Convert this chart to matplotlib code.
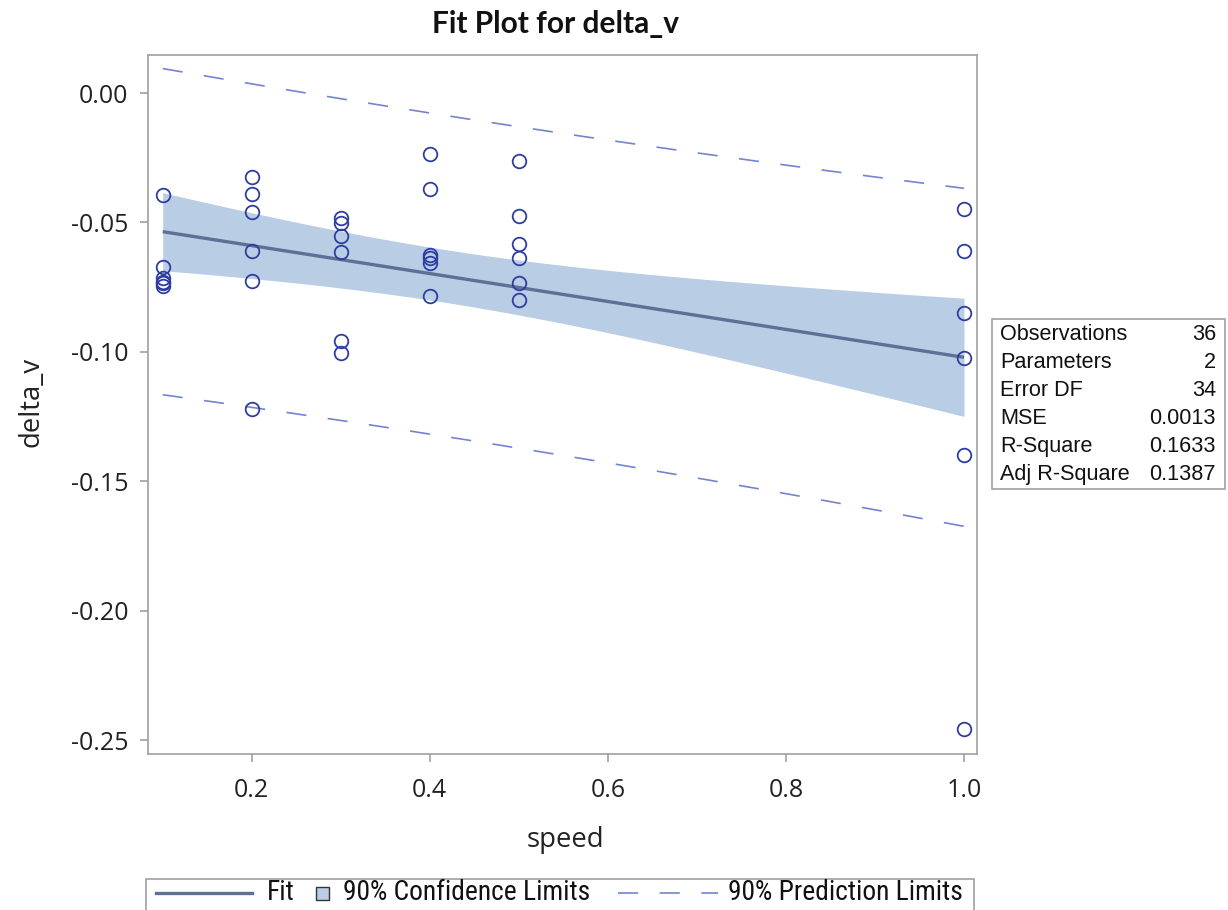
import numpy as np
import matplotlib
matplotlib.use("Agg")
import matplotlib.pyplot as plt
from matplotlib import font_manager as fm
from matplotlib.lines import Line2D
from matplotlib.patches import Rectangle

plt.rcParams['lines.scale_dashes'] = False

# ---- data -------------------------------------------------------------
speed = [0.1, 0.1, 0.1, 0.1, 0.1, 0.1,
         0.2, 0.2, 0.2, 0.2, 0.2, 0.2,
         0.3, 0.3, 0.3, 0.3, 0.3, 0.3,
         0.4, 0.4, 0.4, 0.4, 0.4, 0.4,
         0.5, 0.5, 0.5, 0.5, 0.5, 0.5,
         1.0, 1.0, 1.0, 1.0, 1.0, 1.0]
delta_v = [-0.0394, -0.0671, -0.0716, -0.0729, -0.0735, -0.0746,
           -0.0323, -0.0392, -0.0459, -0.0609, -0.0726, -0.1221,
           -0.0484, -0.0504, -0.0553, -0.0613, -0.0958, -0.1003,
           -0.0237, -0.0370, -0.0626, -0.0639, -0.0656, -0.0784,
           -0.0261, -0.0475, -0.0583, -0.0639, -0.0735, -0.0800,
           -0.0449, -0.0611, -0.0849, -0.1025, -0.1399, -0.2459]

x_ticks = [0.2, 0.4, 0.6, 0.8, 1.0]
y_ticks = [0.00, -0.05, -0.10, -0.15, -0.20, -0.25]

stats_labels = ["Observations", "Parameters", "Error DF", "MSE",
                "R-Square", "Adj R-Square"]
stats_values = ["36", "2", "34", "0.0013", "0.1633", "0.1387"]

legend_labels = ["Fit", "90% Confidence Limits", "90% Prediction Limits"]

t_crit = 1.6909  # t quantile 0.95, 34 df (90% two-sided limits)

# ---- colours ----------------------------------------------------------
c_band = '#B9CDE5'
c_fit = '#5D7095'
c_pts = '#2E3DA0'
c_pred = '#7384D0'
c_axis = '#A0A0A0'

# ---- regression ---------------------------------------------------------
x = np.asarray(speed)
y = np.asarray(delta_v)
n = len(x)
slope, intercept = np.polyfit(x, y, 1)
resid = y - (intercept + slope * x)
mse = np.sum(resid ** 2) / (n - 2)
xbar = x.mean()
sxx = np.sum((x - xbar) ** 2)
xg = np.linspace(x.min(), x.max(), 200)
yg = intercept + slope * xg
se_mean = np.sqrt(mse * (1.0 / n + (xg - xbar) ** 2 / sxx))
se_pred = np.sqrt(mse * (1.0 + 1.0 / n + (xg - xbar) ** 2 / sxx))

# ---- figure -------------------------------------------------------------
W, H = 1228, 910
fig = plt.figure(figsize=(W / 100, H / 100), dpi=100)
renderer = fig.canvas.get_renderer()


def fx(px):
    return px / W


def fy(py):
    return 1 - py / H


ax = fig.add_axes([fx(148), fy(754), fx(977) - fx(148), fy(55) - fy(754)])

ax.fill_between(xg, yg - t_crit * se_mean, yg + t_crit * se_mean,
                color=c_band, lw=0, zorder=1)
ax.plot(xg, yg, color=c_fit, lw=2.4, zorder=3, solid_capstyle='butt')
for sign in (1, -1):
    ax.plot(xg, yg + sign * t_crit * se_pred, color=c_pred, lw=1.2,
            dashes=(14.5, 15.5), zorder=2)
ax.plot(x, y, linestyle='none', marker='o', markersize=9.8,
        markerfacecolor='none', markeredgecolor=c_pts, markeredgewidth=1.3,
        zorder=4)

ax.set_xlim(0.0835, 1.0146)
ax.set_ylim(-0.2554, 0.0147)
ax.set_xticks(x_ticks)
ax.set_xticklabels([f"{v:.1f}" for v in x_ticks])
ax.set_yticks(y_ticks)
ax.set_yticklabels([f"{v:.2f}" for v in y_ticks])

tick_fp = fm.FontProperties(family=['Open Sans', 'DejaVu Sans'], size=18)
for lab in ax.get_xticklabels() + ax.get_yticklabels():
    lab.set_fontproperties(tick_fp)
    lab.set_color('#222222')
ax.tick_params(axis='y', direction='out', length=6, width=1.2, color=c_axis, pad=8)
ax.tick_params(axis='x', direction='out', length=6, width=1.2, color=c_axis, pad=11)
for sp in ax.spines.values():
    sp.set_color(c_axis)
    sp.set_linewidth(1.2)

label_font = dict(family=['Open Sans', 'DejaVu Sans'], size=19.8, color='#222222')
fig.text(fx(565), fy(840), "speed", ha='center', va='center', **label_font)
fig.text(fx(31), fy(402), "delta_v", ha='center', va='center',
         rotation=90, **label_font)

fig.text(fx(556), fy(24), "Fit Plot for delta_v", ha='center', va='center',
         family=['Lato', 'DejaVu Sans'], weight='bold', size=21.5, color='#111111')

# ---- statistics inset -------------------------------------------------
fig.patches.append(Rectangle((fx(992), fy(489)), fx(1225) - fx(992),
                             fy(319) - fy(489), transform=fig.transFigure,
                             fill=False, edgecolor=c_axis, lw=1.2))
stat_font = dict(family=['Liberation Sans', 'DejaVu Sans'], size=15.6,
                 color='#111111')
for i, (lab, val) in enumerate(zip(stats_labels, stats_values)):
    yy = fy(335 + i * 27.8)
    fig.text(fx(1000), yy, lab, ha='left', va='center', **stat_font)
    fig.text(fx(1216), yy, val, ha='right', va='center', **stat_font)


# ---- legend strip -----------------------------------------------------
def narrow_font():
    """Pick a narrow sans face if one is installed."""
    prefs = ['Liberation Sans Narrow', 'Arial Narrow', 'Nimbus Sans Narrow',
             'Roboto Condensed', 'Open Sans Condensed', 'Noto Sans Condensed',
             'DejaVu Sans Condensed']
    faces = [f for f in fm.fontManager.ttflist
             if f.style == 'normal' and f.weight in (400, 'normal', 'regular')]
    for name in prefs:
        for f in faces:
            if f.name == name:
                return f.fname
    for f in faces:
        if f.stretch in ('condensed', 'semi-condensed') or 'Condensed' in f.fname \
                or 'Narrow' in f.fname:
            if 'Bold' not in f.fname and 'Oblique' not in f.fname \
                    and 'Italic' not in f.fname:
                return f.fname
    return None


nf = narrow_font()
if nf:
    leg_fp = fm.FontProperties(fname=nf, size=20)
else:
    leg_fp = fm.FontProperties(family='Liberation Sans', size=20)

# scale the legend face so the middle entry spans its slot width
probe = fig.text(0, 0, legend_labels[1], fontproperties=leg_fp)
wpx = probe.get_window_extent(renderer).width
probe.remove()
leg_fp.set_size(min(21.0, 20 * 247.0 / wpx))

fig.patches.append(Rectangle((fx(146), fy(918)), fx(974) - fx(146),
                             fy(879) - fy(918), transform=fig.transFigure,
                             fill=False, edgecolor=c_axis, lw=1.2))
ly = fy(893)
fig.lines.append(Line2D([fx(156), fx(252)], [ly, ly], transform=fig.transFigure,
                        color=c_fit, lw=2.4))
fig.text(fx(267), ly, legend_labels[0], ha='left', va='center',
         fontproperties=leg_fp, color='#111111')
fig.patches.append(Rectangle((fx(316), fy(900)), fx(329) - fx(316),
                             fy(887) - fy(900), transform=fig.transFigure,
                             facecolor=c_band, edgecolor='#333333', lw=1.0))
fig.text(fx(343), ly, legend_labels[1], ha='left', va='center',
         fontproperties=leg_fp, color='#111111')
fig.lines.append(Line2D([fx(618), fx(718)], [ly, ly], transform=fig.transFigure,
                        color=c_pred, lw=1.2, dashes=(14.5, 15.5)))
fig.text(fx(728), ly, legend_labels[2], ha='left', va='center',
         fontproperties=leg_fp, color='#111111')

fig.savefig("out.png", dpi=100)
